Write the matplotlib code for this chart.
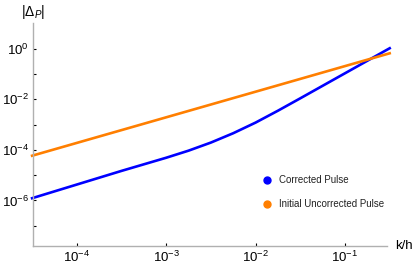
import numpy as np
import matplotlib
matplotlib.use("Agg")
import matplotlib.pyplot as plt
from matplotlib.ticker import FixedLocator, LogFormatterSciNotation, NullFormatter

plt.rcParams['font.family'] = ['Liberation Sans', 'DejaVu Sans']
plt.rcParams['mathtext.fontset'] = 'custom'
plt.rcParams['mathtext.rm'] = 'Liberation Sans'
plt.rcParams['mathtext.it'] = 'Liberation Sans:italic'

# values (log10)
logk_corr = [-4.50, -3.50, -3.00, -2.75, -2.50, -2.25, -2.00, -1.75, -1.50, -1.00, -0.50]
logd_corr = [-5.91, -4.83, -4.31, -4.03, -3.71, -3.34, -2.92, -2.45, -1.96, -0.97, 0.02]
logk_init = [-4.50, -0.50]
logd_init = [-4.23, -0.18]

labels = ["Corrected Pulse", "Initial Uncorrected Pulse"]
colors = ["#0000ff", "#ff7f00"]

fig = plt.figure(figsize=(4.15, 2.68), dpi=100)
ax = fig.add_axes([33/415, 1-246/268, (387-33)/415, (246-22.7)/268])

ax.plot(10**np.array(logk_corr), 10**np.array(logd_corr), color=colors[0], lw=1.9,
        clip_on=False, solid_joinstyle='round')
ax.plot(10**np.array(logk_init), 10**np.array(logd_init), color=colors[1], lw=1.9, clip_on=False)

ax.set_xscale('log')
ax.set_yscale('log')
ax.set_xlim(10**-4.49, 10**-0.53)
ax.set_ylim(10**-7.8, 10**1.03)

ax.xaxis.set_major_locator(FixedLocator([1e-4, 1e-3, 1e-2, 1e-1]))
ax.xaxis.set_minor_locator(FixedLocator([]))
ax.yaxis.set_major_locator(FixedLocator([1e-6, 1e-4, 1e-2, 1e0]))
ax.yaxis.set_minor_locator(FixedLocator([1e-7, 1e-5, 1e-3, 1e-1]))
ax.xaxis.set_major_formatter(LogFormatterSciNotation())
ax.yaxis.set_major_formatter(LogFormatterSciNotation())
ax.yaxis.set_minor_formatter(NullFormatter())

for s in ['top', 'right']:
    ax.spines[s].set_visible(False)
for s in ['left', 'bottom']:
    ax.spines[s].set_color('#b0b0b0')
    ax.spines[s].set_linewidth(1.0)
ax.tick_params(which='both', direction='in', length=2.5, width=0.8, color='black',
               labelsize=9.5, pad=3)
ax.tick_params(which='minor', length=2.5)

fig.text(395/415, 1-246/268, "k/h", fontsize=9.5, va='center', ha='left')
fig.text(33/415, 1-12/268, r"$|\Delta_{P}|$", fontsize=10, va='center', ha='center')

# legend
for i, (lab, c) in enumerate(zip(labels, colors)):
    yy = 1 - (180 + 24*i)/268
    fig.lines.append(plt.Line2D([267/415], [yy], marker='o', ms=5, color=c,
                                transform=fig.transFigure, ls='none'))
    fig.text(279/415, yy, lab, fontsize=7, va='center', ha='left', color='#222222')

fig.savefig("out.png", dpi=100)
